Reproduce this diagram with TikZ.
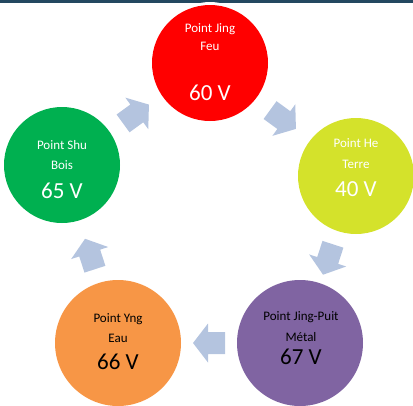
\documentclass[tikz,border=0pt]{standalone}
\usepackage{fontspec}
\setmainfont{Carlito}
\usetikzlibrary{calc}
\definecolor{topbar}{HTML}{234860}
\definecolor{cRed}{HTML}{FF0000}
\definecolor{cYel}{HTML}{D4E22B}
\definecolor{cPur}{HTML}{8064A2}
\definecolor{cOra}{HTML}{F79646}
\definecolor{cGre}{HTML}{00B050}
\definecolor{cArr}{HTML}{B4C4DF}
\tikzset{
  circ/.style={circle, draw=none, inner sep=0pt},
  small/.style={anchor=base, inner sep=0pt, font=\fontsize{13}{15}\selectfont},
  big/.style={anchor=base, inner sep=0pt, font=\fontsize{23}{26}\selectfont},
  blockarrow/.style={fill=cArr, draw=none}
}
\newcommand{\blockarr}[2]{%
  \fill[blockarrow, shift={#1}, rotate=#2]
    (-16,-11) -- (1,-11) -- (1,-19.5) -- (16,0) -- (1,19.5) -- (1,11) -- (-16,11) -- cycle;}
\begin{document}
\begin{tikzpicture}[x=1pt,y=-1pt]
\useasboundingbox (0,0) rectangle (413,405);
\fill[topbar] (0,0) rectangle (413,3);
\fill[white] (210,12) ellipse [x radius=22, y radius=10];
% circles
\node[circ, fill=cRed, minimum size=116pt] (jing) at (210,63) {};
\node[circ, fill=cYel, minimum size=116pt] (he) at (356,176) {};
\node[circ, fill=cPur, minimum size=126pt] (puit) at (300,343) {};
\node[circ, fill=cOra, minimum size=126pt] (yng) at (118,343) {};
\node[circ, fill=cGre, minimum size=116pt] (shu) at (62,165) {};
% arrows
\blockarr{($(jing)!0.5!(he)$)}{-36}
\blockarr{($(he)!0.5!(puit)$)}{-108}
\blockarr{($(puit)!0.5!(yng)$)}{180}
\blockarr{($(yng)!0.5!(shu)$)}{108}
\blockarr{($(shu)!0.5!(jing)$)}{36}
% texts
\node[small, white] (t1a) at (210,32) {Point Jing};
\node[small, white] (t1b) at (210,50) {Feu};
\node[big, white] (t1c) at (210,100) {60 V};
\node[small, white] (t2a) at (356,147) {Point He};
\node[small, white] (t2b) at (356,168) {Terre};
\node[big, white] (t2c) at (356,196) {40 V};
\node[small, black] (t3a) at (301,320) {Point Jing-Puit};
\node[small, black] (t3b) at (301,341) {Métal};
\node[big, black] (t3c) at (301,364) {67 V};
\node[small, black] (t4a) at (118,322) {Point Yng};
\node[small, black] (t4b) at (118,342) {Eau};
\node[big, black] (t4c) at (118,369) {66 V};
\node[small, white] (t5a) at (62,149) {Point Shu};
\node[small, white] (t5b) at (62,169) {Bois};
\node[big, white] (t5c) at (62,198) {65 V};
\end{tikzpicture}
\end{document}
